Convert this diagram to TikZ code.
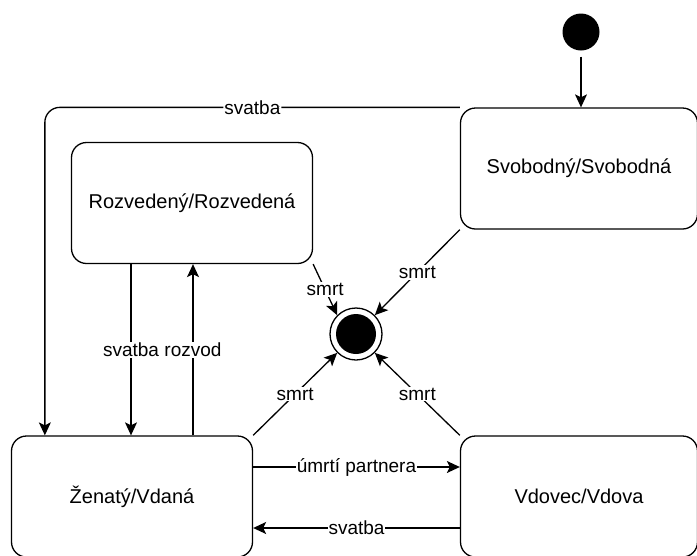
\documentclass[tikz,border=0pt]{standalone}
\usepackage{fontspec}
\setmainfont{Liberation Sans}
\usetikzlibrary{arrows.meta}
\newcommand{\boxfont}{\fontsize{20}{24}\selectfont}
\newcommand{\lblfont}{\fontsize{19}{22}\selectfont}
\tikzset{
  state/.style={draw, line width=1.3pt, rounded corners=15pt, fill=white,
    minimum width=241pt, minimum height=121pt, inner sep=0pt, font=\boxfont},
  arr/.style={line width=1.3pt, -{Stealth[length=13pt, width=12pt, inset=3pt]}},
  lbl/.style={fill=white, inner sep=1pt, font=\lblfont},
}
\begin{document}
\begin{tikzpicture}[x=1pt, y=-1pt]
  \useasboundingbox (0,0) rectangle (697,555);

  % states
  \node[state, minimum width=237pt] (svob) at (579,168.5) {Svobodný/Svobodná};
  \node[state] (rozv) at (192,203) {Rozvedený/Rozvedená};
  \node[state] (zen)  at (132,496.5) {Ženatý/Vdaná};
  \node[state, minimum width=237pt] (vdo) at (579,496.5) {Vdovec/Vdova};

  % initial and final pseudo-states
  \node[circle, fill=black, minimum size=37pt, inner sep=0pt] (ini) at (581,32) {};
  \node[circle, draw, line width=1.3pt, minimum size=52pt, inner sep=0pt,
    path picture={\fill (path picture bounding box.center) circle (20pt);}]
    (fin) at (356,334) {};

  % transitions
  \draw[arr, shorten <=6pt] (ini) -- (ini |- svob.north);

  \draw[arr, rounded corners=15pt] (svob.north west) -| ([xshift=34pt]zen.north west)
    node[lbl, pos=0.25] {svatba};

  \draw[arr] ([xshift=-61pt]rozv.south) -- ([xshift=-61pt]rozv.south |- zen.north)
    node[lbl, midway] {svatba};
  \draw[arr] ([xshift=1pt]rozv.south |- zen.north) -- ([xshift=1pt]rozv.south)
    node[lbl, midway] {rozvod};

  \draw[arr] (rozv.south east) -- (fin.135) node[lbl, midway] {smrt};
  \draw[arr] (svob.south west) -- (fin.45)  node[lbl, midway] {smrt};
  \draw[arr] (zen.north east)  -- (fin.225) node[lbl, midway] {smrt};
  \draw[arr] (vdo.north west)  -- (fin.-45) node[lbl, midway] {smrt};

  \draw[arr] ([yshift=29.5pt]zen.east) -- ([yshift=29.5pt]zen.east -| vdo.west)
    node[lbl, midway] {úmrtí partnera};
  \draw[arr] ([yshift=-31.5pt]zen.east -| vdo.west) -- ([yshift=-31.5pt]zen.east)
    node[lbl, midway] {svatba};
\end{tikzpicture}
\end{document}
